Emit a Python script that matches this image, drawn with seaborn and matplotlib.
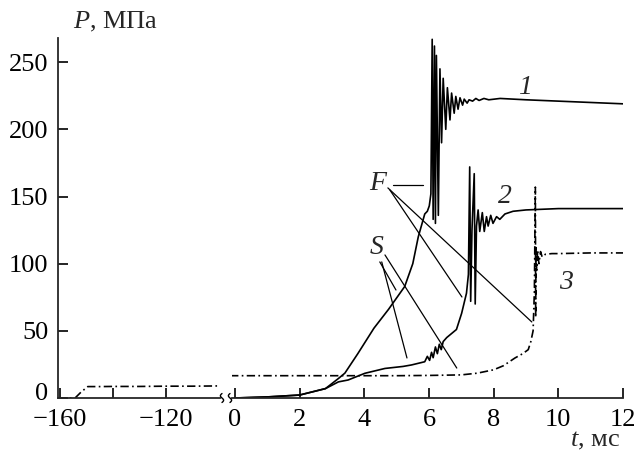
import numpy as np
import pandas as pd
import matplotlib
matplotlib.use("Agg")
import matplotlib.pyplot as plt
import matplotlib.transforms as mtransforms
from matplotlib.lines import Line2D
import seaborn as sns

# --- data (t in ms, P in MPa) ---
t_pre = [-160.7, -154.3, -152.0, -149.5, -145.0, -140.0, -130.0, -120.0, -110.0, -99.6]
p_pre = [0, 0, 4.5, 8.5, 8.5, 8.6, 8.6, 8.8, 8.8, 9.0]

t1 = [0, 1.0, 2.0, 2.8, 3.2, 3.4, 3.8, 4.3, 4.75, 5.25, 5.5, 5.67, 5.87, 5.95, 6.01,
      6.06, 6.10, 6.13, 6.17, 6.20, 6.23, 6.29, 6.34, 6.39, 6.44, 6.52, 6.57, 6.65,
      6.70, 6.78, 6.83, 6.90, 6.96, 7.04, 7.09, 7.18, 7.24, 7.35, 7.45, 7.55, 7.7,
      7.85, 8.2, 9.0, 10.0, 11.0, 12.0]
p1 = [0, 0.8, 2.2, 7, 14.5, 18.5, 33, 52, 66, 83, 100, 120, 137, 139, 143,
      152, 267, 133, 262, 130, 255, 136, 245, 190, 238, 200, 231, 207,
      227, 212, 224.5, 215, 223.5, 218, 222.5, 219.5, 222, 221, 223, 221.5, 223,
      222, 223, 222, 221, 220, 219]

t2 = [0, 1.0, 2.0, 2.8, 3.2, 3.5, 4.02, 4.64, 5.2, 5.46, 5.7, 5.87, 5.95, 6.02, 6.08,
      6.13, 6.2, 6.26, 6.32, 6.38, 6.44, 6.55, 6.7, 6.85, 7.01, 7.16, 7.22, 7.26,
      7.29, 7.33, 7.40, 7.43, 7.47, 7.52, 7.57, 7.65, 7.71, 7.78, 7.83, 7.91, 7.98,
      8.09, 8.19, 8.35, 8.6, 9.0, 10.0, 11.0, 12.0]
p2 = [0, 0.8, 2.2, 7, 12, 13.4, 18.4, 22, 23.5, 24.6, 26, 27, 31, 28, 34,
      30, 38, 33, 40, 36, 42, 45, 48, 51, 63, 78, 92, 172,
      72, 125, 167, 70, 128, 140, 124, 138, 124, 135, 128, 136, 130,
      135, 133, 137, 139, 140, 141, 141, 141]

t3 = [-0.15, 1, 2, 3, 4, 5, 6, 7.0, 7.5, 8.0, 8.3, 8.66, 8.9, 9.07, 9.15, 9.22,
      9.26, 9.29, 9.30, 9.31, 9.33, 9.36, 9.40, 9.45, 9.50, 9.6, 9.8, 10, 11, 12]
p3 = [16.6, 16.6, 16.6, 16.6, 16.6, 16.6, 16.8, 17.2, 18.5, 21, 24, 29.8, 33, 36, 42, 50,
      80, 157, 60, 112, 95, 110, 100, 109, 105, 107, 107.5, 107.5, 108, 108]

left_ticks = [-160, -140, -120]
left_labels = ["\u2212160", "", "\u2212120"]
right_ticks = [0, 2, 4, 6, 8, 10, 12]
y_ticks = [0, 50, 100, 150, 200, 250]

sns.set_style("ticks")
plt.rcParams['font.family'] = ['Liberation Serif', 'DejaVu Serif']
plt.rcParams['mathtext.fontset'] = 'custom'
plt.rcParams['mathtext.it'] = 'Liberation Serif:italic'
plt.rcParams['mathtext.rm'] = 'Liberation Serif'

W, H = 637, 455
fig = plt.figure(figsize=(W / 100, H / 100), dpi=100)

def fx(px):
    return px / W

def fy(py):
    return 1 - py / H

y0, y1 = 398, 38
ax_l = fig.add_axes([fx(58), fy(y0), fx(220 - 58), (y0 - y1) / H])
ax_r = fig.add_axes([fx(232), fy(y0), fx(623 - 232), (y0 - y1) / H])

lw = 1.2
dash3 = (0, (5, 2, 1, 2))

sns.lineplot(x=t_pre, y=p_pre, ax=ax_l, color='black', lw=lw, linestyle=dash3,
             sort=False, estimator=None)
sns.lineplot(x=t1, y=p1, ax=ax_r, color='black', lw=lw, sort=False, estimator=None)
sns.lineplot(x=t2, y=p2, ax=ax_r, color='black', lw=lw, sort=False, estimator=None)
sns.lineplot(x=t3, y=p3, ax=ax_r, color='black', lw=lw, linestyle=dash3,
             sort=False, estimator=None)

for ax in (ax_l, ax_r):
    ax.set_ylim(0, 268)
    ax.set_xlabel("")
    ax.set_ylabel("")
    ax.patch.set_alpha(0)
    for s in ('top', 'right'):
        ax.spines[s].set_visible(False)
    ax.spines['bottom'].set_linewidth(1.3)
    ax.spines['left'].set_linewidth(1.3)
    ax.tick_params(direction='in', length=7, width=1.2, labelsize=19, pad=8,
                   color='black', labelcolor='black')

ax_l.set_xlim(-160.75, -99.6)
ax_l.set_xticks(left_ticks)
ax_l.set_xticklabels(left_labels)
ax_l.set_yticks(y_ticks)
ax_l.tick_params(axis='y', pad=7)
# the "0" of the P axis sits a little above its tick, as in the original
zero_lab = ax_l.get_yticklabels()[0]
zero_lab.set_transform(zero_lab.get_transform() +
                       mtransforms.ScaledTranslation(0, 7 / 100, fig.dpi_scale_trans))

ax_r.set_xlim(-0.09, 12)
ax_r.set_xticks(right_ticks)
ax_r.set_yticks([])
ax_r.spines['left'].set_visible(False)

# curve labels
lab = dict(fontsize=20, style='italic', ha='center', va='center')
ax_r.text(8.96, 231, "1", **lab)
ax_r.text(8.35, 150, "2", **lab)
ax_r.text(10.25, 86, "3", **lab)
ax_r.text(4.42, 160, "F", **lab)
ax_r.text(4.39, 112, "S", **lab)

# pointer lines for F and S
pointers = [
    ((4.88, 158.6), (5.81, 158.6)),
    ((4.79, 154.9), (7.02, 75.2)),
    ((4.73, 156.4), (9.18, 56.6)),
    ((4.48, 101.3), (4.98, 80.4)),
    ((4.54, 101.3), (5.32, 29.8)),
    ((4.64, 106.5), (6.86, 22.3)),
]
for (xa, ya), (xb, yb) in pointers:
    ax_r.plot([xa, xb], [ya, yb], color='black', lw=0.9)

# axis break marks
for bx in (222, 230):
    s = np.linspace(-1, 1, 30)
    xs = bx + 1.6 * np.sin(s * np.pi)
    ys = y0 + 4.5 * s
    fig.add_artist(Line2D(fx(xs), fy(ys), color='black', lw=1.0))

fig.text(fx(73), fy(22), "$P$, МПа", fontsize=19, ha='left', va='center')
fig.text(fx(620), fy(441), "$t$, мс", fontsize=19, ha='right', va='center')

fig.savefig("out.png", dpi=100)
